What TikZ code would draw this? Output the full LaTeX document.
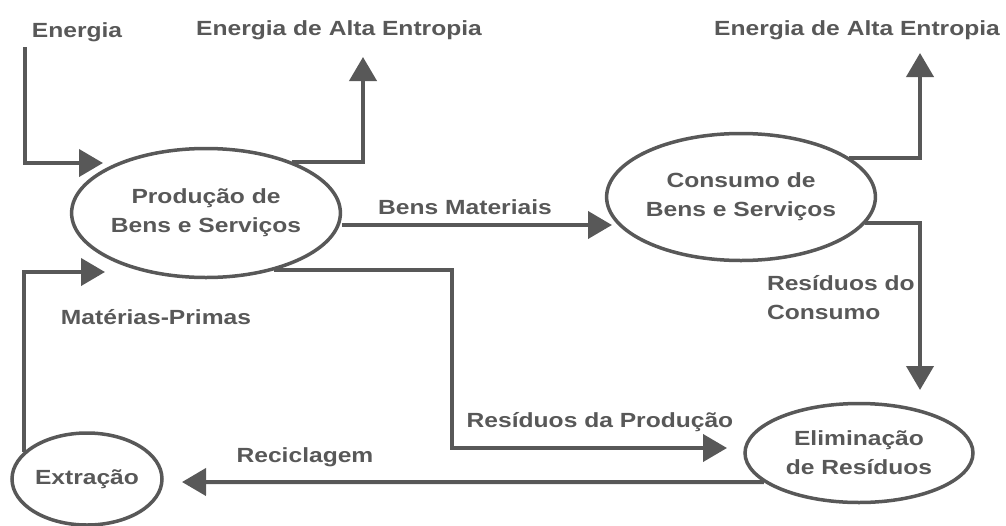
\documentclass[tikz,border=0pt]{standalone}
\usepackage{fontspec}
\setmainfont{Liberation Sans}[FakeStretch=1.2]
\usetikzlibrary{arrows.meta,shapes.geometric}
\definecolor{ink}{RGB}{88,88,88}

\begin{document}
\begin{tikzpicture}[>={Triangle[width=27pt,length=24pt]}, line width=4pt, color=ink, font=\fontsize{20.5}{29}\selectfont\bfseries, proc/.style={ellipse, draw, line width=3.5pt, inner sep=0pt, align=center}, lbl/.style={inner sep=0pt}]
	\useasboundingbox (0pt, 0pt) rectangle (1006pt, -525pt);
	% ellipses
	\draw (206.0pt, -213.0pt)node[proc, minimum width=248pt, minimum height=129pt](prod){Produção de\\Bens e Serviços};
	\draw (741.0pt, -197.0pt)node[proc, minimum width=248pt, minimum height=127pt](cons){Consumo de\\Bens e Serviços};
	\draw (859.0pt, -453.0pt)node[proc, minimum width=228pt, minimum height=99pt](elim){Eliminação\\de Resíduos};
	\draw (87.0pt, -479.0pt)node[proc, minimum width=150pt, minimum height=92pt](extr){Extração};
	% labels
	\draw (77.0pt, -32.0pt)node[lbl](energia){Energia};
	\draw (339.0pt, -30.0pt)node[lbl](altaA){Energia de Alta Entropia};
	\draw (857.0pt, -30.0pt)node[lbl](altaB){Energia de Alta Entropia};
	\draw (465.0pt, -207.0pt)node[lbl](bens){Bens Materiais};
	\draw (765.0pt, -298.0pt)node[lbl, anchor=west, align=left](rescons){Resíduos do\\Consumo};
	\draw (600.0pt, -422.0pt)node[lbl](resprod){Resíduos da Produção};
	\draw (305.0pt, -457.0pt)node[lbl](recic){Reciclagem};
	\draw (156.0pt, -317.0pt)node[lbl](mat){Matérias-Primas};
	% free ends
	\coordinate (eTop) at (25pt, -47pt);
	\coordinate (eTip) at (103pt, -163pt);
	\coordinate (hiA) at (363pt, -57pt);
	\coordinate (hiB) at (920pt, -53pt);
	\coordinate (bTip) at (612pt, -225pt);
	\coordinate (rcTip) at (920pt, -390pt);
	\coordinate (rpBend) at (452pt, -448pt);
	\coordinate (rpTip) at (727pt, -448pt);
	\coordinate (recTip) at (182pt, -482pt);
	\coordinate (mTip) at (105pt, -272pt);
	% flows
	\draw[->] (eTop) |- (eTip);
	\draw[->] (prod.31) -| (hiA);
	\draw[->] (prod.east |- bTip) -- (bTip);
	\draw[->] (cons.20) -| (hiB);
	\draw[->] (cons.-12) -| (rcTip);
	\draw[->] (prod.-40) -| (rpBend) -- (rpTip);
	\draw[->] (elim.197) -- (recTip);
	\draw[->] (extr.157) |- (mTip);
\end{tikzpicture}
\end{document}
